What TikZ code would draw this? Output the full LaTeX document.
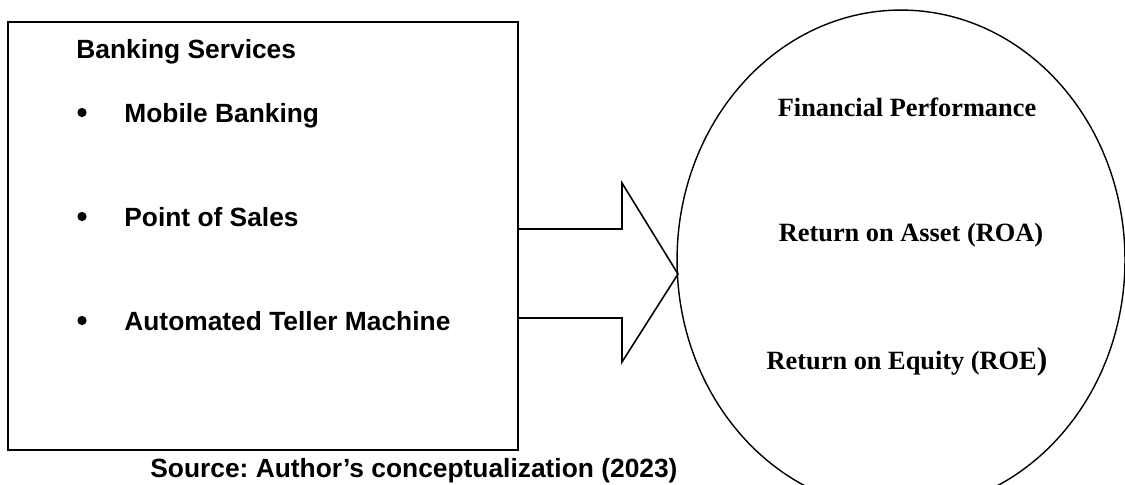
\documentclass[tikz,border=0pt]{standalone}
\usepackage{fontspec}
\setmainfont{Liberation Serif}
\setsansfont{Liberation Sans}
\usetikzlibrary{shapes.geometric}
\frenchspacing

\tikzset{
  sanslabel/.style={font=\sffamily\bfseries\fontsize{15}{18}\selectfont, inner sep=0pt, anchor=base west},
  seriflabel/.style={font=\bfseries\fontsize{15}{18}\selectfont, inner sep=0pt, anchor=base},
}

\begin{document}
\begin{tikzpicture}[x=0.02cm, y=-0.02cm]

\useasboundingbox (0,0) rectangle (1125,484);

% Ramka z uslugami
\node[draw, line width=1.1pt, minimum width=10.2cm, minimum height=8.56cm, outer sep=0pt] (services) at (263,236) {};
\node[sanslabel] (title) at (76,58) {Banking Services};
\foreach \y/\name/\txt in {122/mobile/Mobile Banking, 226/pos/Point of Sales, 330/atm/Automated Teller Machine} {
    \node[sanslabel] (\name) at (124,\y) {\txt};
    \fill (82,\y-9.5) circle (4.6); % punkt listy
}

% Elipsa z wynikami
\node[draw, ellipse, line width=0.8pt, minimum width=8.96cm, minimum height=10cm, inner sep=0pt, outer sep=0pt] (perf) at (901,260) {};
\node[seriflabel] (fp) at (907,116) {Financial Performance};
\node[seriflabel] (roa) at (911,241) {Return on Asset (ROA)};
\node[seriflabel] (roe) at (907,369) {Return on Equity (ROE{\fontsize{18}{18}\selectfont )}};

% Strzalka blokowa
\coordinate (tip) at (678,274);
\draw[line width=0.9pt, line join=miter] (services.east |- 0,229) -- (622,229) -- (622,183) -- (tip) -- (622,362) -- (622,318) -- (services.east |- 0,318);

% Zrodlo
\node[sanslabel] (source) at (150,477) {Source: Author’s conceptualization (2023)};

\end{tikzpicture}
\end{document}
